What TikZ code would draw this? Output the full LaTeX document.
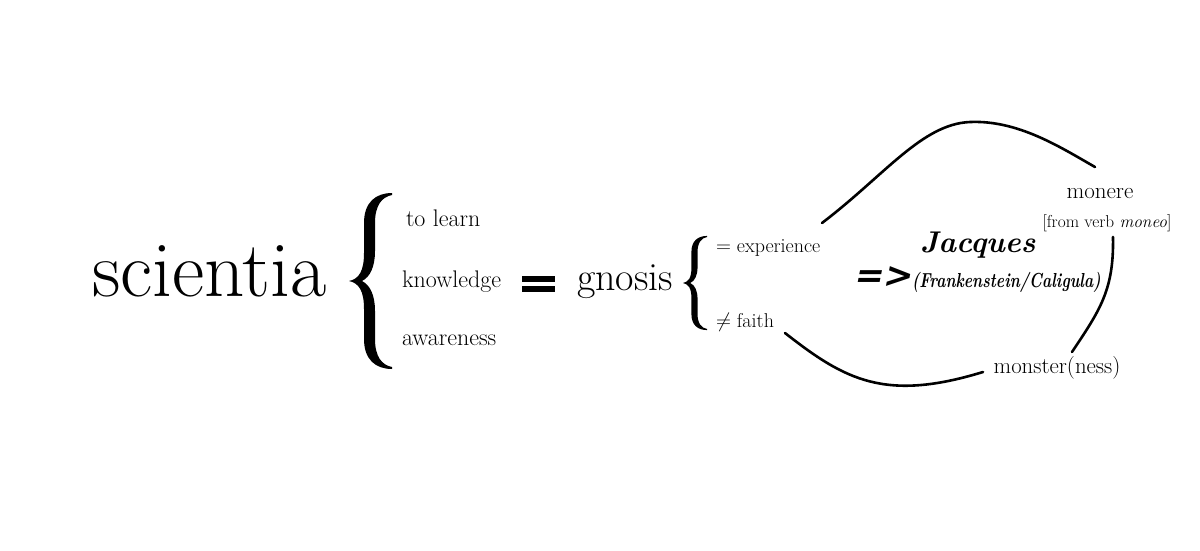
\documentclass[tikz,border=0pt]{standalone}
\usepackage{exscale}
\usepackage{fontspec}
\newfontface\arrowfont{DejaVu Sans Bold}[FakeSlant=0.2]
\newcommand{\fs}[1]{\fontsize{#1}{#1}\selectfont}
\tikzset{
  txt/.style={inner sep=0pt, outer sep=0pt},
  curve/.style={line width=2.6pt, line cap=round},
}
% brace outline, tip at (0,0), ends at x=43, y from -88 to 88 (y downward)
\newcommand{\mybrace}{%
  (43,-88) .. controls (27,-88) and (15,-79) .. (15,-58) -- (15,-28)
  .. controls (15,-10) and (10,-2) .. (0,0)
  .. controls (10,2) and (15,10) .. (15,28) -- (15,58)
  .. controls (15,79) and (27,88) .. (43,88) -- (43,86)
  .. controls (33,84) and (26,76) .. (26,58) -- (26,30)
  .. controls (26,14) and (21,4) .. (13,0)
  .. controls (21,-4) and (26,-14) .. (26,-30) -- (26,-58)
  .. controls (26,-76) and (33,-84) .. (43,-86) -- cycle}
\begin{document}
\begin{tikzpicture}[x=1pt,y=-1pt]
\useasboundingbox (0,0) rectangle (1200,550);
\fill[white] (0,0) rectangle (1200,550);
% braces
\coordinate (br1) at (349,281);
\coordinate (br2) at (683,283);
\begin{scope}[shift={(br1)}]
  \fill \mybrace;
\end{scope}
\begin{scope}[shift={(br2)}, xscale=0.56, yscale=0.535]
  \fill \mybrace;
\end{scope}
% left part
\node[txt, anchor=base west] (sci) at (92,296) {\fs{79}scientia};
\node[txt, anchor=base west] (learn) at (406,226) {\fs{24}to learn};
\node[txt, anchor=base west] (know) at (402,287) {\fs{24}knowledge};
\node[txt, anchor=base west] (aware) at (402,345) {\fs{24}awareness};
\node[txt] (eq) at (538,284) {\vbox{\hrule width 33pt height 6pt\vskip 4pt\hrule width 33pt height 6pt}};
\node[txt, anchor=base west] (gno) at (577,290) {\fs{40}gnosis};
\node[txt, anchor=base west] (exp) at (716,252) {\fs{20}$=$ experience};
\node[txt, anchor=base west] (faith) at (716,327) {\fs{20}$\neq$ faith};
% right part
\node[txt, anchor=base west] (jac) at (920,252) {\fs{30}\bfseries\itshape Jacques};
\node[txt, anchor=base west] (arr) at (853,287) {\fs{35}\arrowfont =>};
\node[txt, anchor=base west] (frank) at (912,287) {\scalebox{1}[1.3]{\fs{15.6}\bfseries\itshape (Frankenstein/Caligula)}};
\node[txt, anchor=base] (mon) at (1100,198) {\fs{23}monere};
\node[txt, anchor=base] (moneo) at (1107,227) {\fs{17.3}[from verb \textit{moneo}]};
\node[txt, anchor=base] (monst) at (1057,373) {\fs{22.8}monster(ness)};
% connector ends
\coordinate (c1a) at (822,223);
\coordinate (c1b) at (1095,167);
\coordinate (c2a) at (1113,237);
\coordinate (c2b) at (1072,352);
\coordinate (c3a) at (785,333);
\coordinate (c3b) at (983,372);
\draw[curve] (c1a) .. controls (885,175) and (922,124) .. (970,122) .. controls (1018,120) and (1060,147) .. (c1b);
\draw[curve] (c2a) .. controls (1114,290) and (1100,310) .. (c2b);
\draw[curve] (c3a) .. controls (845,380) and (885,402) .. (c3b);
\end{tikzpicture}
\end{document}
